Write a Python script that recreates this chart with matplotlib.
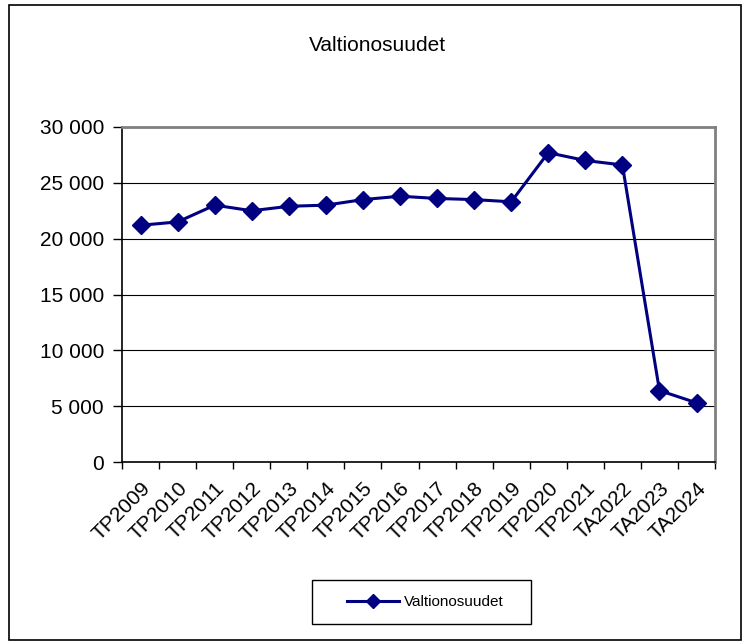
import matplotlib.pyplot as plt
from matplotlib.patches import Rectangle
from matplotlib.ticker import FuncFormatter, MultipleLocator
from matplotlib.transforms import ScaledTranslation

plt.rcParams['font.family'] = ['Liberation Sans', 'DejaVu Sans']

categories = ['TP2009', 'TP2010', 'TP2011', 'TP2012', 'TP2013', 'TP2014', 'TP2015', 'TP2016',
              'TP2017', 'TP2018', 'TP2019', 'TP2020', 'TP2021', 'TA2022', 'TA2023', 'TA2024']
values = [21200, 21500, 23000, 22500, 22900, 23000, 23500, 23800,
          23600, 23500, 23300, 27700, 27000, 26600, 6400, 5300]
series_name = 'Valtionosuudet'
title = 'Valtionosuudet'

fig = plt.figure(figsize=(7.45, 6.44), dpi=100)
ax = fig.add_axes([0.1638, 0.2826, 0.7960, 0.5202])

x = list(range(len(categories)))
ax.plot(x, values, color='#000080', linewidth=2.2, marker='D', markersize=9, label=series_name)

ax.set_xlim(-0.5, len(categories) - 0.5)
ax.set_ylim(0, 30000)
ax.yaxis.set_major_locator(MultipleLocator(5000))
ax.yaxis.set_major_formatter(FuncFormatter(lambda v, p: f'{int(v):,}'.replace(',', ' ')))
ax.grid(axis='y', color='black', linewidth=0.8)
ax.set_axisbelow(True)

ax.set_xticks(x)
ax.set_xticklabels(categories, rotation=45, ha='right', rotation_mode='anchor')
# nudge rotated labels slightly left, like the original
shift = ScaledTranslation(-6 / 100, 0, fig.dpi_scale_trans)
for lbl in ax.get_xticklabels():
    lbl.set_transform(lbl.get_transform() + shift)
ax.set_xticks([i - 0.5 for i in range(len(categories) + 1)], minor=True)
ax.tick_params(axis='x', which='major', length=0, pad=12, labelsize=15)
ax.tick_params(axis='x', which='minor', length=5, width=1, direction='out')
ax.tick_params(axis='y', length=6.5, width=1, direction='out', labelsize=15, pad=6.5)

for s in ['left', 'bottom']:
    ax.spines[s].set_color('black')
    ax.spines[s].set_linewidth(1.2)
for s in ['top', 'right']:
    ax.spines[s].set_color('#808080')
    ax.spines[s].set_linewidth(2)

fig.text(0.507, 0.930, title, ha='center', va='center', fontsize=15)

fig.legend(loc='center left', bbox_to_anchor=(347 / 745, 0.0652), frameon=False,
           fontsize=11, handlelength=3.4, handletextpad=0.3,
           borderpad=0, borderaxespad=0, markerscale=0.75)
fig.patches.append(Rectangle((312 / 745, 1 - 624 / 644), 219 / 745, 44 / 644,
                             transform=fig.transFigure, fill=False,
                             edgecolor='black', linewidth=1))

fig.patches.append(Rectangle((0.012, 0.006), 0.982, 0.986, transform=fig.transFigure,
                             fill=False, edgecolor='black', linewidth=1.2))

fig.savefig('out.png', dpi=100)
